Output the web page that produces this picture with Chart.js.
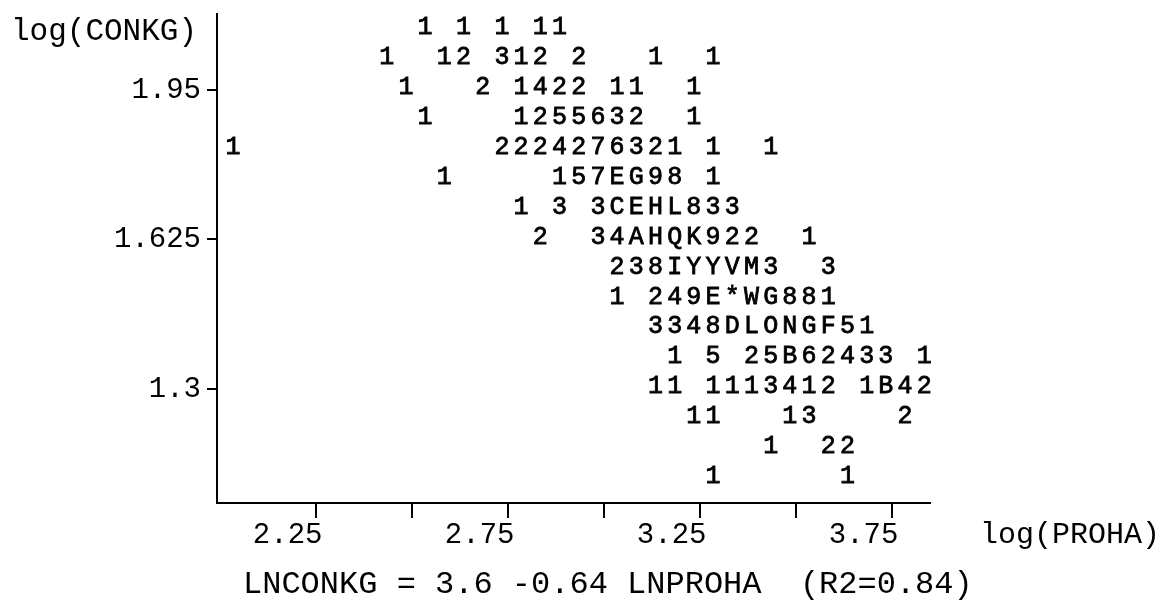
<!DOCTYPE html>
<html>
<head>
<meta charset="utf-8">
<script src="https://cdn.jsdelivr.net/npm/chart.js@4.4.1/dist/chart.umd.min.js"></script>
<style>
  html, body { margin: 0; padding: 0; background: #ffffff; }
  #wrap { width: 1168px; height: 606px; }
</style>
</head>
<body>
<div id="wrap"><canvas id="c" width="1168" height="606"></canvas></div>
<script>
// ---- Data (each character is a count cell) ----
// y value (log CONKG) of each printed row, top to bottom
const rowY = [2.085, 2.02, 1.955, 1.89, 1.825, 1.76, 1.695, 1.63,
              1.565, 1.50, 1.435, 1.37, 1.305, 1.24, 1.175, 1.11];
// x value (log PROHA) of the first character of each row
const rowStartX = [2.535, 2.435, 2.485, 2.535, 2.035, 2.585, 2.785, 2.835,
                   3.035, 3.035, 3.135, 3.185, 3.135, 3.235, 3.435, 3.285];
// printed symbols of each row (count codes), one column per x bin
const rowText = [
  "1 1 1 11",
  "1  12 312 2   1  1",
  "1   2 1422 11  1",
  "1    1255632  1",
  "1             2224276321 1  1",
  "1     157EG98 1",
  "1 3 3CEHL833",
  "2  34AHQK922  1",
  "238IYYVM3  3",
  "1 249E*WG881",
  "3348DLONGF51",
  "1 5 25B62433 1",
  "11 1113412 1B42",
  "11   13    2",
  "1  22",
  "1      1"
];
// width of one character column, in x units
const colStep = 0.05;

const xTickValues = [2.25, 2.5, 2.75, 3.0, 3.25, 3.5, 3.75];
const xTickLabels = ["2.25", "", "2.75", "", "3.25", "", "3.75"];
const yTickValues = [1.3, 1.625, 1.95];
const yTickLabels = ["1.3", "1.625", "1.95"];

const xTitle = "log(PROHA)";
const yTitle = "log(CONKG)";
const fitText = "LNCONKG = 3.6 -0.64 LNPROHA  (R2=0.84)";

// build points from the rows
const points = [];
rowText.forEach((s, r) => {
  for (let i = 0; i < s.length; i++) {
    const ch = s[i];
    if (ch === " ") continue;
    points.push({ x: rowStartX[r] + i * colStep, y: rowY[r], ch: ch });
  }
});

const MONO = "'Liberation Mono', 'DejaVu Sans Mono', monospace";

const charPlugin = {
  id: "charPoints",
  afterDatasetsDraw(chart) {
    const ctx = chart.ctx;
    const meta = chart.getDatasetMeta(0);
    const data = chart.data.datasets[0].data;
    ctx.save();
    ctx.fillStyle = "#000";
    ctx.strokeStyle = "#000";
    ctx.lineWidth = 0.8;
    ctx.font = "25px " + MONO;
    ctx.textAlign = "center";
    ctx.textBaseline = "middle";
    meta.data.forEach((el, i) => {
      ctx.fillText(data[i].ch, el.x, el.y);
      ctx.strokeText(data[i].ch, el.x, el.y);
    });
    ctx.restore();
  }
};

const textPlugin = {
  id: "titles",
  afterDraw(chart) {
    const ctx = chart.ctx;
    ctx.save();
    ctx.fillStyle = "#000";
    ctx.textBaseline = "middle";
    ctx.textAlign = "left";
    ctx.font = "31px " + MONO;
    ctx.fillText(yTitle, 11, 32);
    ctx.font = "30px " + MONO;
    ctx.fillText(xTitle, 980, 535);
    ctx.font = "32px " + MONO;
    ctx.fillText(fitText, 243, 585, 734);
    ctx.restore();
  }
};

new Chart(document.getElementById("c"), {
  type: "scatter",
  data: {
    datasets: [{
      data: points,
      pointRadius: 0,
      pointHoverRadius: 0,
      showLine: false
    }]
  },
  options: {
    responsive: false,
    animation: false,
    devicePixelRatio: 1,
    events: [],
    layout: { padding: { left: 0, top: 14, right: 238, bottom: 0 } },
    plugins: { legend: { display: false }, tooltip: { enabled: false }, title: { display: false } },
    scales: {
      x: {
        type: "linear",
        min: 1.993,
        max: 3.85,
        afterFit(scale) {
          scale.height = 103;
          scale.paddingLeft = 0; scale.paddingRight = 0;
          scale.paddingTop = 0; scale.paddingBottom = 0;
        },
        afterBuildTicks(scale) { scale.ticks = xTickValues.map(v => ({ value: v })); },
        border: { display: true, color: "#000", width: 2 },
        grid: { display: true, drawOnChartArea: false, drawTicks: true, tickLength: 15, color: "#000", lineWidth: 2 },
        ticks: {
          color: "#000",
          font: { family: MONO, size: 29 },
          padding: 0,
          labelOffset: -28,
          maxRotation: 0,
          autoSkip: false,
          callback: (v, i) => xTickLabels[i]
        }
      },
      y: {
        type: "linear",
        min: 1.052,
        max: 2.115,
        afterFit(scale) {
          scale.width = 217;
          scale.paddingLeft = 0; scale.paddingRight = 0;
          scale.paddingTop = 0; scale.paddingBottom = 0;
        },
        afterBuildTicks(scale) { scale.ticks = yTickValues.map(v => ({ value: v })); },
        border: { display: true, color: "#000", width: 2 },
        grid: { display: true, drawOnChartArea: false, drawTicks: true, tickLength: 10, color: "#000", lineWidth: 2 },
        ticks: {
          color: "#000",
          font: { family: MONO, size: 29 },
          padding: 6,
          autoSkip: false,
          callback: (v, i) => yTickLabels[i]
        }
      }
    }
  },
  plugins: [charPlugin, textPlugin]
});
</script>
</body>
</html>
